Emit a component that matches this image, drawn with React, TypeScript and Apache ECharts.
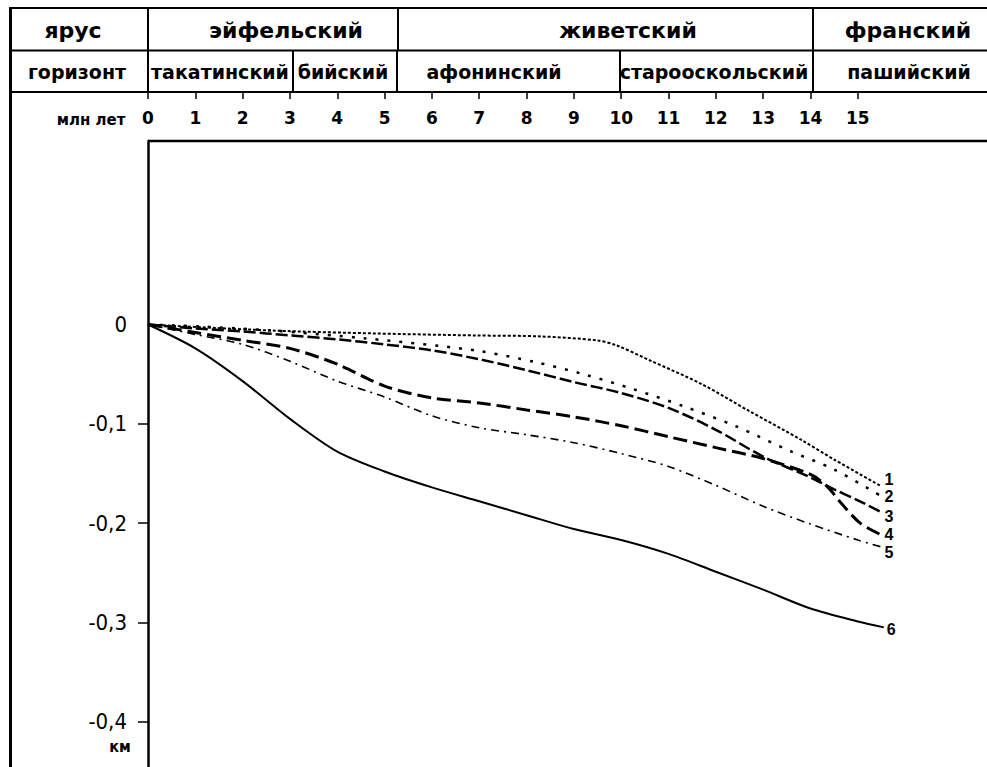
import React, { useEffect, useRef } from "react";
import * as echarts from "echarts";

// Time axis (million years) tick labels
const timeTicks = [0, 1, 2, 3, 4, 5, 6, 7, 8, 9, 10, 11, 12, 13, 14, 15];
// Depth axis (km)
const depthLabels = [0, -0.1, -0.2, -0.3, -0.4];
const depthTicks = [-0.1, -0.2, -0.3, -0.4];

// Stratigraphy header
const stages = [
  { name: "эйфельский", cx: 286 },
  { name: "живетский", cx: 628 },
  { name: "франский", cx: 908 },
];
const stageBorders = [148, 398, 813];
const horizons = [
  { name: "такатинский", cx: 220 },
  { name: "бийский", cx: 343 },
  { name: "афонинский", cx: 494 },
  { name: "старооскольский", cx: 714 },
  { name: "пашийский", cx: 909 },
];
const horizonBorders = [148, 293, 397, 620, 813];

// Curves: [time, depth]
const curve1: number[][] = [
  [0, 0], [2.6, -0.006], [4.8, -0.009], [6.9, -0.011], [8.3, -0.012], [9.5, -0.016],
  [9.9, -0.021], [10.6, -0.036], [11.7, -0.06], [12.7, -0.087], [13.8, -0.116],
  [14.5, -0.136], [15.5, -0.163],
];
const curve2: number[][] = [
  [0, 0], [1.1, -0.002], [2.6, -0.006], [4.6, -0.014], [6.9, -0.026], [8.2, -0.038],
  [9.2, -0.05], [10.25, -0.065], [11.3, -0.082], [12.4, -0.102], [13.6, -0.128],
  [14.5, -0.146], [15.5, -0.173],
];
const curve3: number[][] = [
  [0, 0], [1, -0.004], [2, -0.007], [3, -0.011], [4, -0.015], [5, -0.02], [6, -0.026],
  [7, -0.035], [8, -0.046], [9, -0.058], [10, -0.069], [11, -0.084], [12, -0.106],
  [13, -0.133], [14, -0.154], [14.5, -0.166], [15, -0.177], [15.5, -0.189],
];
const curve4: number[][] = [
  [0, 0], [1, -0.008], [2, -0.016], [3, -0.024], [4, -0.04], [5, -0.062], [6, -0.074],
  [7, -0.079], [8, -0.086], [9, -0.093], [10, -0.102], [11, -0.113], [12, -0.124],
  [13, -0.135], [14, -0.151], [14.35, -0.163], [14.65, -0.18], [15.05, -0.2], [15.5, -0.212],
];
const curve5: number[][] = [
  [0, 0], [1, -0.01], [2, -0.02], [3, -0.037], [4, -0.057], [5, -0.073], [6, -0.092],
  [7, -0.104], [8, -0.111], [9, -0.119], [10, -0.13], [11, -0.143], [12, -0.162],
  [13, -0.183], [14, -0.201], [15, -0.217], [15.5, -0.224],
];
const curve6: number[][] = [
  [0, 0], [1, -0.024], [2, -0.057], [3, -0.095], [4, -0.128], [5, -0.148], [6, -0.164],
  [7, -0.178], [8, -0.192], [9, -0.206], [10, -0.217], [11, -0.231], [12, -0.249],
  [13, -0.267], [14, -0.286], [15, -0.299], [15.55, -0.305],
];
const curveNames = ["1", "2", "3", "4", "5", "6"];

const HEAD = 'bold 22px "DejaVu Sans"';
const SUB = 'bold 19px "DejaVu Sans"';

export default function App() {
  const ref = useRef<HTMLDivElement>(null);
  useEffect(() => {
    if (!ref.current) return;
    const chart = echarts.init(ref.current, null, { renderer: "svg" });
    const black = "#000";
    const line = (x1: number, y1: number, x2: number, y2: number, w = 2) => ({
      type: "line",
      shape: { x1, y1, x2, y2 },
      style: { stroke: black, lineWidth: w },
      silent: true,
    });
    const text = (t: string, x: number, y: number, font: string, align = "center") => ({
      type: "text",
      x,
      y,
      style: {
        text: t,
        font,
        fill: black,
        align,
        verticalAlign: "middle",
        textAlign: align,
        textVerticalAlign: "middle",
      },
      silent: true,
    });
    const graphics: any[] = [
      line(10, 8, 987, 8, 2),
      line(10, 50.5, 987, 50.5, 2),
      line(10, 92, 987, 92, 2),
      line(10.5, 7, 10.5, 767, 3),
      line(148, 141, 987, 141, 2.5),
      text("ярус", 73, 30, HEAD),
      text("горизонт", 77, 72, SUB),
      text("млн лет", 91, 120, 'bold 15px "DejaVu Sans"'),
      text("км", 120, 746, 'bold 16px "Liberation Sans Narrow", "DejaVu Sans Condensed"'),
    ];
    stageBorders.forEach((x) => graphics.push(line(x, 8, x, 50.5, 2)));
    horizonBorders.forEach((x) => graphics.push(line(x, 50.5, x, 92, 2)));
    stages.forEach((s) => graphics.push(text(s.name, s.cx, 30, HEAD)));
    horizons.forEach((h) => graphics.push(text(h.name, h.cx, 72, SUB)));

    const curves = [curve1, curve2, curve3, curve4, curve5, curve6];
    const styles: any[] = [
      { width: 2, type: [3, 2] },
      { width: 2.5, type: [3, 9] },
      { width: 2.5, type: [12, 4] },
      { width: 3, type: [14, 6] },
      { width: 1.6, type: [8, 5, 2, 5] },
      { width: 2, type: "solid" },
    ];
    const labelOffsets = [[0, -7], [0, 0], [0, 4], [0, -1], [0, 6], [0, 2]];

    chart.setOption({
      animation: false,
      grid: { left: 148, top: 141, right: 0, bottom: 0, containLabel: false },
      xAxis: {
        type: "value",
        position: "top",
        offset: 49,
        min: 0,
        max: 17.73,
        axisLine: { show: false, onZero: false },
        splitLine: { show: false },
        axisTick: {
          show: true,
          inside: true,
          length: 7,
          customValues: timeTicks,
          lineStyle: { color: black, width: 1.5 },
        },
        axisLabel: {
          inside: true,
          margin: 17,
          customValues: timeTicks,
          color: black,
          fontFamily: "DejaVu Sans",
          fontWeight: "bold",
          fontSize: 17,
        },
      },
      yAxis: {
        type: "value",
        min: -0.4456,
        max: 0.1848,
        axisLine: { show: true, onZero: false, lineStyle: { color: black, width: 2.5 } },
        splitLine: { show: false },
        axisTick: {
          show: true,
          length: 10,
          customValues: depthTicks,
          lineStyle: { color: black, width: 1.5 },
        },
        axisLabel: {
          margin: 21,
          customValues: depthLabels,
          color: black,
          fontFamily: '"Liberation Sans Narrow", "DejaVu Sans Condensed", sans-serif',
          fontSize: 22,
          formatter: (v: number) => (v === 0 ? "0" : v.toFixed(1).replace(".", ",")),
        },
      },
      graphic: graphics,
      series: curves.map((d, i) => ({
        type: "line",
        name: curveNames[i],
        data: d,
        showSymbol: false,
        smooth: 0.3,
        lineStyle: { color: black, width: styles[i].width, type: styles[i].type },
        endLabel: {
          show: true,
          formatter: curveNames[i],
          color: black,
          fontFamily: "Liberation Sans",
          fontWeight: "bold",
          fontSize: 16,
          lineHeight: 15,
          distance: 3,
          offset: labelOffsets[i],
        },
        silent: true,
      })),
    });
    return () => chart.dispose();
  }, []);
  return (
    <div
      ref={ref}
      style={{ position: "absolute", left: 0, top: 0, width: 987, height: 767, background: "#fff" }}
    />
  );
}
